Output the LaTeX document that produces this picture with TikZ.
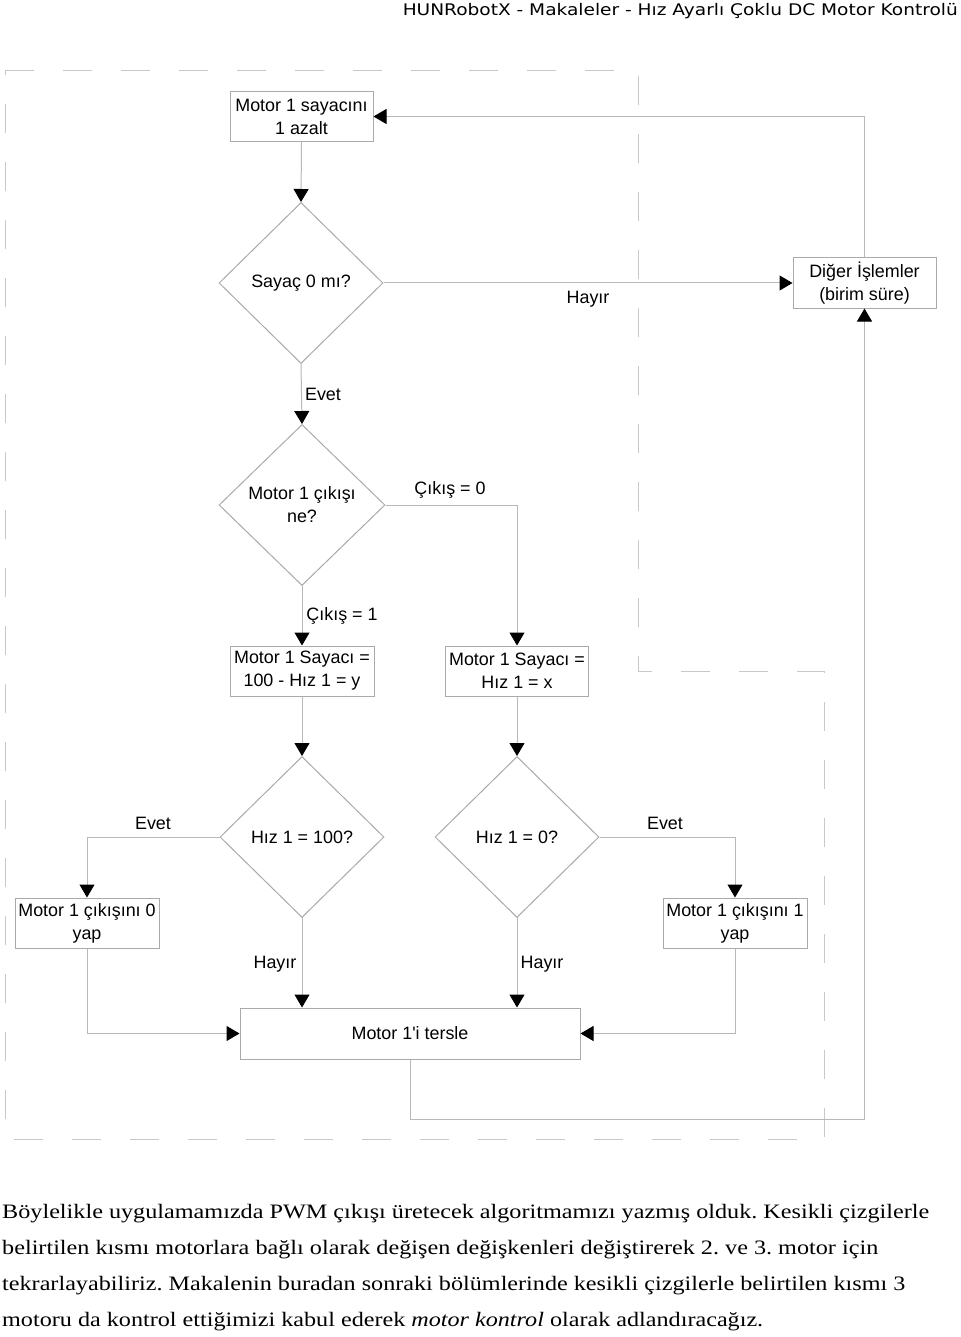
\documentclass[tikz,border=0pt]{standalone}
\usepackage{fontspec}
\usepackage{graphicx}
\setmainfont{Liberation Serif}
\newfontfamily\arf{Liberation Sans}
\newfontfamily\hdrf{DejaVu Sans}
\usetikzlibrary{shapes.geometric,arrows.meta}
\frenchspacing
\definecolor{linegray}{RGB}{185,185,185}
\definecolor{boxgray}{RGB}{170,170,170}
\definecolor{dashgray}{RGB}{200,200,200}
\tikzset{
  dtext/.style={font=\arf\fontsize{17.9}{23}\selectfont, text=black, align=center, inner sep=0pt},
  procbox/.style={dtext, draw=boxgray, line width=1pt, rectangle, minimum width=143pt, minimum height=50pt},
  decis/.style={dtext, draw=boxgray, line width=1pt, diamond, minimum width=164pt, minimum height=161pt},
  conn/.style={draw=linegray, line width=1pt, -{Triangle[length=13pt,width=15pt,color=black,fill=black]}},
  lbl/.style={dtext},
  bodyline/.style={font=\fontsize{20.5}{36}\selectfont, anchor=base west, inner sep=0pt, text=black},
  dashb/.style={draw=dashgray, line width=1pt, dash pattern=on 29pt off 29pt}
}
\begin{document}
\begin{tikzpicture}[x=1pt,y=-1pt]
\useasboundingbox (0,0) rectangle (960,1337);
\fill[white] (0,0) rectangle (960,1337);

% header
\node[anchor=east, inner sep=0pt, font=\hdrf\fontsize{16}{19}\selectfont] (hdr) at (958,11)
  {\resizebox{555pt}{\height}{HUNRobotX - Makaleler - Hız Ayarlı Çoklu DC Motor Kontrolü}};

% dashed boundary
\draw[dashb] (5,71) -- (638,71) -- (638,671) -- (824,671) -- (824,1139) -- (5,1139) -- cycle;

% nodes
\node[procbox] (A) at (301.5,116.5) {Motor 1 sayacını\\1 azalt};
\node[decis] (B) at (301,283) {Sayaç 0 mı?};
\node[procbox] (C) at (864.5,283) {Diğer İşlemler\\(birim süre)};
\node[decis, minimum width=166pt] (D) at (302,505) {Motor 1 çıkışı\\ne?};
\node[procbox, minimum width=144pt] (E) at (302,671) {Motor 1 Sayacı =\\100 - Hız 1 = y};
\node[procbox] (F) at (517,671) {Motor 1 Sayacı =\\Hız 1 = x};
\node[decis] (G) at (302,837) {Hız 1 = 100?};
\node[decis] (H) at (517,837) {Hız 1 = 0?};
\node[procbox, minimum width=144pt] (I) at (87,923) {Motor 1 çıkışını 0\\yap};
\node[procbox, minimum width=144pt] (J) at (735,923) {Motor 1 çıkışını 1\\yap};
\node[procbox, minimum width=340pt, minimum height=51pt] (K) at (410,1033.5) {Motor 1'i tersle};

% labels
\node[lbl] (l1) at (588,299) {Hayır};
\node[lbl] (l2) at (323,394) {Evet};
\node[lbl] (l3) at (450,490) {Çıkış = 0};
\node[lbl] (l4) at (342,616) {Çıkış = 1};
\node[lbl] (l5) at (153,823) {Evet};
\node[lbl] (l6) at (665,823) {Evet};
\node[lbl] (l7) at (275,964) {Hayır};
\node[lbl] (l8) at (542,964) {Hayır};

% connectors
\coordinate (loop) at (864.5,1119);
\draw[conn] (A.south) -- (B.north);
\draw[conn] (B.east) -- (C.west);
\draw[conn] (B.south) -- (D.north);
\draw[conn] (D.east) -| (F.north);
\draw[conn] (D.south) -- (E.north);
\draw[conn] (E.south) -- (G.north);
\draw[conn] (F.south) -- (H.north);
\draw[conn] (G.west) -| (I.north);
\draw[conn] (H.east) -| (J.north);
\draw[conn] (G.south) -- (G.south |- K.north);
\draw[conn] (H.south) -- (H.south |- K.north);
\draw[conn] (I.south) |- (K.west);
\draw[conn] (J.south) |- (K.east);
\draw[conn] (K.south) |- (loop) -- (C.south);
\draw[conn] (C.north) |- (A.east);

% body text
\node[bodyline] (t1) at (2,1218) {\resizebox{927pt}{\height}{Böylelikle uygulamamızda PWM çıkışı üretecek algoritmamızı yazmış olduk. Kesikli çizgilerle}};
\node[bodyline] (t2) at (2,1254) {\resizebox{876pt}{\height}{belirtilen kısmı motorlara bağlı olarak değişen değişkenleri değiştirerek 2. ve 3. motor için}};
\node[bodyline] (t3) at (2,1290) {\resizebox{903pt}{\height}{tekrarlayabiliriz. Makalenin buradan sonraki bölümlerinde kesikli çizgilerle belirtilen kısmı 3}};
\node[bodyline] (t4) at (2,1326) {\resizebox{761pt}{\height}{motoru da kontrol ettiğimizi kabul ederek \textit{motor kontrol} olarak adlandıracağız.}};
\end{tikzpicture}
\end{document}
